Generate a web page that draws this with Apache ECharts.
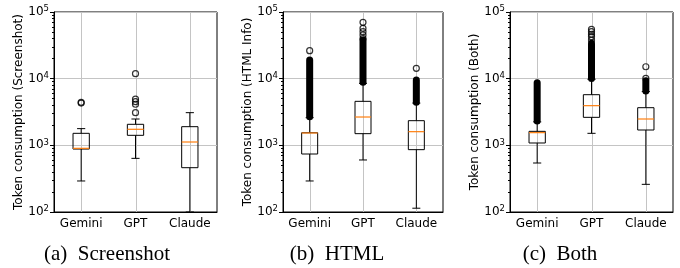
<!DOCTYPE html>
<html>
<head>
<meta charset="utf-8">
<script src="https://cdn.jsdelivr.net/npm/echarts@6/dist/echarts.min.js"></script>
<style>
html, body { margin: 0; padding: 0; background: #fff; }
#chart { width: 680px; height: 268px; }
</style>
</head>
<body>
<div id="chart"></div>
<script>
const models = ["Gemini", "GPT", "Claude"];

// [lower whisker, Q1, median, Q3, upper whisker] per model
const screenshotBoxes = [
  [292, 880, 902, 1514, 1780],
  [638, 1413, 1740, 2067, 2483],
  [100, 462, 1122, 1905, 3090],
];
const screenshotOutliers = [[4300, 4420], [3090, 4130, 4520, 4950, 11900], []];
// ranges where the outlier circles pile up into a solid column
const screenshotDense = [null, null, null];

const htmlBoxes = [
  [292, 741, 1531, 1545, 2600],
  [603, 1496, 2660, 4570, 8500],
  [114, 861, 1603, 2343, 4300],
];
const htmlOutliers = [[26300], [40000, 45200, 50700, 57000, 70000], [14300]];
const htmlDense = [[2690, 19000], [8810, 38000], [4420, 9550]];

const bothBoxes = [
  [543, 1084, 1550, 1622, 2250],
  [1514, 2630, 3936, 5750, 9800],
  [260, 1698, 2483, 3670, 6400],
];
const bothOutliers = [[], [38000, 42600, 46200, 50700, 55000], [10100, 15100]];
const bothDense = [[2317, 8710], [10100, 33900], [6530, 9300]];

const panelNames = ["Screenshot", "HTML Info", "Both"];
const captions = ["(a)\u2002Screenshot", "(b)\u2002HTML", "(c)\u2002Both"];

const panels = [
  { boxes: screenshotBoxes, outliers: screenshotOutliers, dense: screenshotDense },
  { boxes: htmlBoxes, outliers: htmlOutliers, dense: htmlDense },
  { boxes: bothBoxes, outliers: bothOutliers, dense: bothDense },
];

// layout
const gridLeft = [54, 283, 510];
const gridWidth = [163, 160, 163];
const captionX = [107, 337, 560];
const FONT = "DejaVu Sans";
const GRID_COLOR = "#c4c4c4";

function renderBox(params, api) {
  const i = api.value(0);
  const cx = api.coord([i, 1000])[0];
  const band = Math.abs(api.coord([1, 1000])[0] - api.coord([0, 1000])[0]);
  const hw = band * 0.15;
  const cw = band * 0.075;
  const y = (k) => api.coord([i, api.value(k)])[1];
  const yMin = y(1), yQ1 = y(2), yMed = y(3), yQ3 = y(4), yMax = y(5);
  const st = { stroke: "#000", lineWidth: 1 };
  return {
    type: "group",
    children: [
      { type: "line", shape: { x1: cx, y1: yQ1, x2: cx, y2: yMin }, style: st },
      { type: "line", shape: { x1: cx, y1: yQ3, x2: cx, y2: yMax }, style: st },
      { type: "line", shape: { x1: cx - cw, y1: yMin, x2: cx + cw, y2: yMin }, style: st },
      { type: "line", shape: { x1: cx - cw, y1: yMax, x2: cx + cw, y2: yMax }, style: st },
      {
        type: "rect",
        shape: { x: cx - hw, y: yQ3, width: 2 * hw, height: yQ1 - yQ3 },
        style: { fill: "none", stroke: "#000", lineWidth: 1 },
      },
      {
        type: "line",
        shape: { x1: cx - hw, y1: yMed, x2: cx + hw, y2: yMed },
        style: { stroke: "#ff7f0e", lineWidth: 1.2 },
      },
    ],
  };
}

function renderDense(params, api) {
  const i = api.value(0);
  const p1 = api.coord([i, api.value(1)]);
  const p2 = api.coord([i, api.value(2)]);
  return {
    type: "line",
    shape: { x1: p1[0], y1: p1[1], x2: p2[0], y2: p2[1] },
    style: { stroke: "#000", lineWidth: 7, lineCap: "round" },
  };
}

// vertical grid line through each category centre
function renderVGrid(params, api) {
  const cs = params.coordSys;
  const x = Math.round(api.coord([api.value(0), 1000])[0]) + 0.5;
  return {
    type: "line",
    shape: { x1: x, y1: cs.y, x2: x, y2: cs.y + cs.height },
    style: { stroke: GRID_COLOR, lineWidth: 1 },
  };
}

const grid = [], xAxis = [], yAxis = [], series = [], graphic = [];

panels.forEach((p, k) => {
  grid.push({
    left: gridLeft[k], top: 12, width: gridWidth[k], height: 200,
    show: true, borderColor: "#000", borderWidth: 1, backgroundColor: "transparent",
  });
  xAxis.push({
    gridIndex: k, type: "category", data: models, boundaryGap: true,
    axisLine: { lineStyle: { color: "#000", width: 1 } },
    axisTick: { interval: 0, alignWithLabel: true, length: 4, lineStyle: { color: "#000" } },
    axisLabel: { interval: 0, color: "#000", fontFamily: FONT, fontSize: 12, margin: 6 },
    splitLine: { show: false },
  });
  yAxis.push({
    gridIndex: k, type: "log", logBase: 10, min: 100, max: 100000,
    name: "Token consumption (" + panelNames[k] + ")",
    nameLocation: "middle", nameGap: 29, nameRotate: 90,
    nameTextStyle: { color: "#000", fontFamily: FONT, fontSize: 12 },
    axisLine: { show: true, lineStyle: { color: "#000", width: 1 } },
    axisTick: { show: true, length: 4, lineStyle: { color: "#000" } },
    minorTick: { show: true, splitNumber: 9, length: 2, lineStyle: { color: "#000" } },
    axisLabel: {
      margin: 5,
      formatter: (v) => "{b|10}{s|" + Math.round(Math.log10(v)) + "}",
      rich: {
        b: { fontFamily: FONT, fontSize: 12, color: "#000" },
        s: { fontFamily: FONT, fontSize: 8.5, color: "#000", verticalAlign: "top", padding: [0, 0, 6, 0] },
      },
    },
    splitLine: { show: true, lineStyle: { color: GRID_COLOR, width: 1 } },
  });

  series.push({
    type: "custom", xAxisIndex: k, yAxisIndex: k, z: 1, silent: true,
    renderItem: renderVGrid,
    encode: { x: 0 },
    data: models.map((m, i) => [i]),
  });
  series.push({
    type: "custom", xAxisIndex: k, yAxisIndex: k, z: 3,
    renderItem: renderBox,
    encode: { x: 0, y: [1, 2, 3, 4, 5] },
    data: p.boxes.map((b, i) => [i].concat(b)),
  });
  series.push({
    type: "custom", xAxisIndex: k, yAxisIndex: k, z: 4,
    renderItem: renderDense,
    encode: { x: 0, y: [1, 2] },
    data: p.dense.map((d, i) => (d ? [i, d[0], d[1]] : null)).filter((d) => d),
  });
  const pts = [];
  p.outliers.forEach((arr, i) => arr.forEach((v) => pts.push([i, v])));
  series.push({
    type: "scatter", xAxisIndex: k, yAxisIndex: k, z: 5,
    symbol: "circle", symbolSize: 6,
    itemStyle: { color: "rgba(0,0,0,0)", borderColor: "#000", borderWidth: 1.2 },
    data: pts,
  });

  graphic.push({
    type: "text", x: captionX[k], y: 254,
    style: {
      text: captions[k], fill: "#000",
      font: '21px "Liberation Serif"', align: "center", verticalAlign: "middle",
    },
  });
});

const chart = echarts.init(document.getElementById("chart"), null, { renderer: "canvas" });
chart.setOption({
  animation: false,
  backgroundColor: "#fff",
  grid, xAxis, yAxis, series, graphic,
});
</script>
</body>
</html>
